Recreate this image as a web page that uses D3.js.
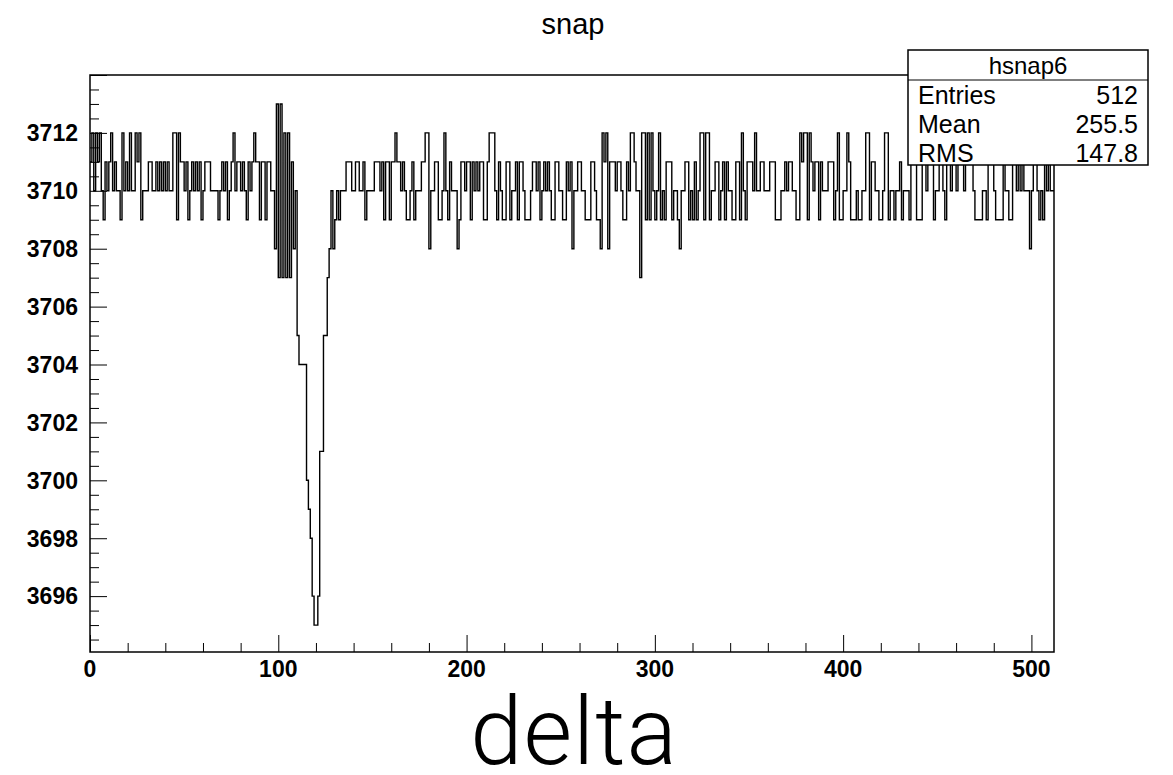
<!DOCTYPE html>
<html>
<head>
<meta charset="utf-8">
<script src="https://cdn.jsdelivr.net/npm/d3@7"></script>
<style>
  body { margin: 0; background: #fff; }
  svg { display: block; }
</style>
</head>
<body>
<div id="myChart"></div>
<script>
// bin contents of hsnap6, 512 bins from 0 to 512
const counts = [
  3711,3712,3710,3712,3711,3712,3710,3709,3711,3710,
  3711,3712,3710,3711,3710,3710,3709,3712,3710,3711,
  3710,3712,3710,3710,3712,3711,3712,3709,3710,3710,
  3710,3711,3711,3710,3710,3711,3710,3711,3710,3711,
  3710,3711,3710,3710,3712,3712,3709,3712,3711,3711,
  3710,3711,3709,3710,3711,3710,3711,3710,3711,3709,
  3710,3711,3711,3711,3710,3710,3710,3710,3709,3710,
  3711,3710,3711,3709,3710,3711,3712,3710,3711,3711,
  3710,3711,3710,3709,3711,3710,3711,3712,3711,3711,
  3709,3711,3711,3709,3711,3711,3710,3710,3708,3713,
  3707,3713,3707,3712,3707,3712,3707,3711,3708,3710,
  3705,3704,3704,3704,3704,3700,3699,3698,3696,3695,
  3695,3696,3701,3701,3705,3705,3707,3708,3710,3708,
  3709,3710,3709,3710,3710,3710,3711,3711,3711,3710,
  3710,3711,3711,3710,3710,3711,3709,3710,3710,3710,
  3710,3711,3711,3711,3710,3711,3709,3711,3711,3709,
  3711,3711,3712,3711,3711,3710,3711,3710,3709,3709,
  3710,3711,3709,3710,3710,3710,3711,3711,3712,3712,
  3708,3710,3710,3711,3711,3709,3709,3710,3712,3710,
  3709,3711,3710,3710,3710,3708,3709,3711,3711,3710,
  3711,3711,3709,3711,3710,3711,3710,3711,3711,3709,
  3709,3711,3712,3712,3712,3710,3709,3711,3710,3709,
  3709,3711,3711,3709,3710,3710,3711,3709,3711,3711,
  3710,3709,3709,3709,3710,3711,3711,3710,3711,3709,
  3710,3711,3710,3711,3710,3709,3709,3711,3711,3710,
  3710,3709,3709,3711,3710,3711,3708,3710,3710,3711,
  3711,3710,3710,3709,3709,3709,3711,3711,3710,3709,
  3709,3708,3712,3711,3712,3708,3711,3711,3711,3710,
  3711,3711,3710,3709,3709,3711,3710,3712,3712,3711,
  3710,3710,3707,3712,3712,3709,3712,3709,3712,3710,
  3709,3710,3712,3709,3710,3709,3711,3711,3711,3709,
  3710,3710,3709,3708,3710,3710,3711,3711,3709,3710,
  3709,3711,3709,3710,3712,3712,3709,3712,3712,3709,
  3710,3710,3711,3711,3709,3710,3711,3709,3711,3710,
  3710,3709,3709,3711,3711,3709,3712,3710,3709,3711,
  3711,3711,3710,3712,3710,3710,3711,3711,3710,3710,
  3710,3711,3711,3711,3709,3709,3709,3710,3710,3711,
  3710,3711,3711,3710,3710,3709,3709,3712,3711,3712,
  3712,3709,3712,3711,3710,3711,3711,3709,3711,3710,
  3710,3710,3711,3711,3711,3709,3710,3712,3709,3709,
  3710,3710,3712,3711,3709,3709,3709,3710,3709,3709,
  3710,3710,3712,3712,3709,3711,3711,3710,3710,3709,
  3709,3710,3712,3712,3709,3710,3710,3709,3710,3710,
  3711,3709,3710,3710,3710,3709,3711,3712,3711,3709,
  3709,3709,3711,3712,3710,3711,3711,3711,3709,3710,
  3710,3711,3711,3710,3709,3711,3712,3710,3711,3711,
  3710,3711,3712,3711,3710,3711,3711,3712,3711,3710,
  3709,3709,3709,3709,3710,3710,3709,3711,3711,3711,
  3710,3709,3709,3709,3709,3711,3710,3710,3709,3709,
  3711,3711,3710,3711,3710,3711,3710,3710,3710,3708,
  3710,3711,3711,3710,3709,3710,3709,3711,3710,3711,
  3710,3710
];

// axis ranges and tick labels
const xRange = [0, 512];
const yRange = [3694.07, 3714];
const xTickLabels = [0, 100, 200, 300, 400, 500];
const yTickLabels = [3696, 3698, 3700, 3702, 3704, 3706, 3708, 3710, 3712];

// stats box
const statsTitle = "hsnap6";
const statsNames = ["Entries", "Mean", "RMS"];
const statsValues = ["512", "255.5", "147.8"];

const width = 1173;
const height = 775;
const frame = { left: 90, right: 1054, top: 75, bottom: 652 };

const svg = d3.select("#myChart")
    .append("svg")
    .attr("width", width)
    .attr("height", height);

const x = d3.scaleLinear().domain(xRange).range([frame.left, frame.right]);
const y = d3.scaleLinear().domain(yRange).range([frame.bottom, frame.top]);

// clip for the histogram
svg.append("clipPath").attr("id", "clip")
    .append("rect")
    .attr("x", frame.left).attr("y", frame.top)
    .attr("width", frame.right - frame.left)
    .attr("height", frame.bottom - frame.top);

// histogram as a step line
const binW = (xRange[1] - xRange[0]) / counts.length;
const pts = counts.map((v, i) => [xRange[0] + i * binW, v]);
pts.push([xRange[1], counts[counts.length - 1]]);

const line = d3.line()
    .x(d => x(d[0]))
    .y(d => y(d[1]))
    .curve(d3.curveStepAfter);

svg.append("path")
    .attr("clip-path", "url(#clip)")
    .attr("d", line(pts))
    .attr("fill", "none")
    .attr("stroke", "#000")
    .attr("stroke-width", 1.4);

// frame
svg.append("rect")
    .attr("x", frame.left).attr("y", frame.top)
    .attr("width", frame.right - frame.left)
    .attr("height", frame.bottom - frame.top)
    .attr("fill", "none")
    .attr("stroke", "#000")
    .attr("stroke-width", 1.5);

// Y axis: ticks drawn inwards
const yAxis = svg.append("g").attr("transform", "translate(" + frame.left + ",0)");
yAxis.call(d3.axisRight(y)
    .tickValues(d3.range(3694.5, 3714.01, 0.5))
    .tickSize(9)
    .tickFormat(""));
yAxis.call(g => g.select(".domain").remove());
yAxis.selectAll(".tick line")
    .attr("stroke", "#000")
    .attr("x2", d => (d % 2 === 0 ? 17 : 9));

svg.append("g").selectAll("text")
    .data(yTickLabels)
    .enter()
    .append("text")
    .attr("x", frame.left - 12)
    .attr("y", d => y(d))
    .attr("dy", "0.36em")
    .attr("text-anchor", "end")
    .style("font", "bold 23px 'Liberation Sans', Arial, sans-serif")
    .text(d => d);

// X axis: ticks drawn upwards
const xAxis = svg.append("g").attr("transform", "translate(0," + frame.bottom + ")");
xAxis.call(d3.axisTop(x)
    .tickValues(d3.range(0, 512, 20))
    .tickSize(9)
    .tickFormat(""));
xAxis.call(g => g.select(".domain").remove());
xAxis.selectAll(".tick line")
    .attr("stroke", "#000")
    .attr("y2", d => (d % 100 === 0 ? -17 : -9));

svg.append("g").selectAll("text")
    .data(xTickLabels)
    .enter()
    .append("text")
    .attr("x", d => x(d))
    .attr("y", frame.bottom + 25)
    .attr("text-anchor", "middle")
    .style("font", "bold 23px 'Liberation Sans', Arial, sans-serif")
    .text(d => d);

// titles
svg.append("text")
    .attr("x", 573).attr("y", 34)
    .attr("text-anchor", "middle")
    .style("font", "29px 'Liberation Sans', Arial, sans-serif")
    .text("snap");

svg.append("text")
    .attr("x", 574).attr("y", 764)
    .attr("text-anchor", "middle")
    .style("font-family", "Roboto, 'Liberation Sans', sans-serif")
    .style("font-weight", 300)
    .style("font-size", "94px")
    .style("letter-spacing", "1px")
    .text("delta");

// stats box
const box = { x: 908, y: 50, w: 240, h: 115 };
const stats = svg.append("g");
stats.append("rect")
    .attr("x", box.x).attr("y", box.y)
    .attr("width", box.w).attr("height", box.h)
    .attr("fill", "#fff")
    .attr("stroke", "#000")
    .attr("stroke-width", 1.5);
stats.append("line")
    .attr("x1", box.x).attr("x2", box.x + box.w)
    .attr("y1", 80).attr("y2", 80)
    .attr("stroke", "#000");
stats.append("text")
    .attr("x", box.x + box.w / 2).attr("y", 74)
    .attr("text-anchor", "middle")
    .style("font", "24px 'Liberation Sans', Arial, sans-serif")
    .text(statsTitle);
statsNames.forEach((name, i) => {
    const yy = 104 + i * 29;
    stats.append("text")
        .attr("x", box.x + 10).attr("y", yy)
        .style("font", "25px 'Liberation Sans', Arial, sans-serif")
        .text(name);
    stats.append("text")
        .attr("x", box.x + box.w - 10).attr("y", yy)
        .attr("text-anchor", "end")
        .style("font", "25px 'Liberation Sans', Arial, sans-serif")
        .text(statsValues[i]);
});
</script>
</body>
</html>
